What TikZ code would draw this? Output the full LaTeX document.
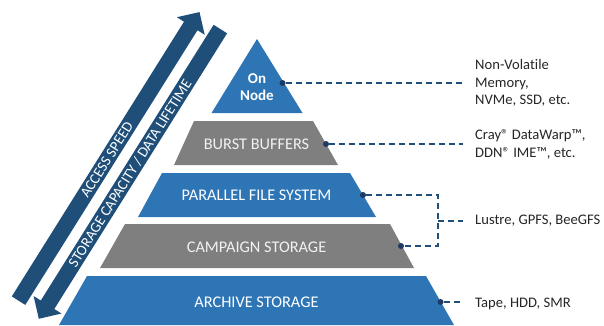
\documentclass[tikz,border=0pt]{standalone}
\usepackage{fontspec}
\setmainfont{Carlito}[Ligatures={NoCommon}]
\usetikzlibrary{calc}

\definecolor{layerblue}{HTML}{2E75B6}
\definecolor{layergray}{HTML}{7F7F7F}
\definecolor{arrowblue}{HTML}{1F4E79}
\definecolor{dotblue}{HTML}{1F3864}
\definecolor{labeltext}{HTML}{262626}
\definecolor{grayfg}{HTML}{F2F2F2}

\begin{document}
\begin{tikzpicture}[x=1pt,y=-1pt,
  layertext/.style={text=white, inner sep=0pt, font=\fontsize{16.3}{19}\selectfont},
  graytext/.style={layertext, text=grayfg},
  arrowtext/.style={text=white, inner sep=0pt, rotate=57.9, font=\fontsize{14.8}{17}\selectfont},
  sidelabel/.style={text=labeltext, inner sep=0pt, anchor=west, align=left, font=\fontsize{14.6}{17.5}\selectfont},
  leaderdot/.style={circle, fill=dotblue, inner sep=0pt, minimum size=6pt},
  leader/.style={draw=arrowblue, line width=1.4pt, dash pattern=on 6pt off 4pt},
]
\useasboundingbox (0,0) rectangle (604,325);

% two opposing diagonal arrows
\fill[arrowblue] (11.8,296.4) -- (184,21.7) -- (176.8,17.2) -- (199.5,12.1)
  -- (204.7,34.8) -- (197.5,30.2) -- (25.3,304.9) -- cycle;
\fill[arrowblue] (213.6,24.8) -- (227.1,33.3) -- (54.3,309.0) -- (61.5,313.5)
  -- (38.8,318.8) -- (33.6,296.0) -- (40.8,300.5) -- cycle;
\node[arrowtext] (speed) at (106.8,159.9) {ACCESS SPEED};
\node[arrowtext] (capacity) at (130,173.3) {STORAGE CAPACITY / DATA LIFETIME};

% pyramid layers
\fill[layerblue] (257,39) -- (302.5,113) -- (211.5,113) -- cycle;
\fill[layergray] (194,121) -- (313,121) -- (338,165) -- (174,165) -- cycle;
\fill[layerblue] (162,173) -- (350,173) -- (376,217) -- (138,217) -- cycle;
\fill[layergray] (125,224) -- (390,224) -- (414,268) -- (100,268) -- cycle;
\fill[layerblue] (87,276) -- (426,276) -- (454,325) -- (59,325) -- cycle;

\node[layertext, align=center, font=\bfseries\fontsize{15}{17}\selectfont] (onnode) at (257,87) {On\\Node};
\node[graytext] (burst) at (256.5,144.5) {BURST BUFFERS};
\node[layertext] (pfs) at (256.5,195.5) {PARALLEL FILE SYSTEM};
\node[graytext] (campaign) at (256.5,247.5) {CAMPAIGN STORAGE};
\node[layertext] (archive) at (256.5,302.5) {ARCHIVE STORAGE};

% connection points on the layer edges
\node[leaderdot] (ondot) at (282.5,83) {};
\node[leaderdot] (burstdot) at (326,144) {};
\node[leaderdot] (pfsdot) at (363,195) {};
\node[leaderdot] (campdot) at (401,246) {};
\node[leaderdot] (archdot) at (440.5,302) {};

% technology labels
\node[sidelabel] (nvm) at (475,83) {Non-Volatile\\Memory,\\NVMe, SSD, etc.};
\node[sidelabel] (bblabel) at (475,144.5) {Cray® DataWarp™,\\DDN® IME™, etc.};
\node[sidelabel] (fslabel) at (475,221) {Lustre, GPFS, BeeGFS};
\node[sidelabel] (tapelabel) at (475,303.5) {Tape, HDD, SMR};

% dashed leaders
\coordinate (brk) at (438,221);
\draw[leader, shorten >=12pt] (ondot) -- (ondot -| nvm.west);
\draw[leader, shorten >=12pt] (burstdot) -- (burstdot -| bblabel.west);
\draw[leader] (pfsdot) -| (brk) |- (campdot);
\draw[leader, shorten >=12pt] (brk) -- (brk -| fslabel.west);
\draw[leader, shorten >=12pt] (archdot) -- (archdot -| tapelabel.west);
\end{tikzpicture}
\end{document}
